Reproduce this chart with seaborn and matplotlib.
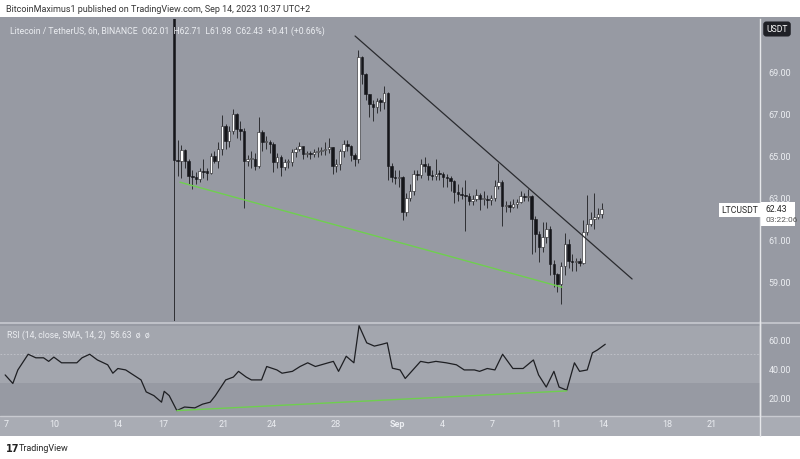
import numpy as np
import pandas as pd
import seaborn as sns
import matplotlib
matplotlib.use("Agg")
import matplotlib.pyplot as plt
from matplotlib.patches import Rectangle

# --- donnees (jours depuis le 10 aout, bougies 6h) ---
first_day = 7.25
step_day = 0.25
open0 = 71.6
closes = [64.76, 64.73, 65.25, 64.73, 64.02, 63.94, 63.86, 64.25, 64.20, 64.17,
          64.97, 64.73, 65.29, 66.40, 65.68, 66.16, 66.95, 66.24, 66.16, 64.73,
          64.80, 64.80, 64.50, 66.08, 65.60, 65.60, 65.52, 64.65, 64.89, 64.41,
          64.65, 64.68, 65.13, 65.29, 65.44, 65.05, 65.10, 65.05, 65.13, 65.20,
          65.25, 65.29, 65.37, 64.49, 64.57, 65.20, 65.52, 65.44, 65.00, 64.80,
          69.65, 68.86, 67.90, 67.43, 67.27, 67.59, 67.55, 67.98, 64.49, 63.94,
          63.90, 63.94, 62.30, 62.98, 63.30, 64.10, 64.05, 64.57, 64.49, 64.06,
          64.02, 64.10, 64.08, 63.94, 63.90, 63.78, 63.22, 63.15, 63.10, 63.05,
          62.83, 62.90, 63.10, 62.90, 62.92, 62.88, 62.98, 63.54, 63.70, 62.59,
          62.60, 62.55, 62.67, 62.75, 63.06, 63.00, 63.06, 61.95, 61.24, 60.60,
          61.08, 61.48, 59.81, 59.33, 58.86, 59.73, 60.76, 59.97, 59.89, 59.95,
          59.85, 61.32, 61.71, 61.95, 62.03, 62.20, 62.43]
highs = [72.5, 65.7, 65.5, 65.3, 64.8, 64.3, 64.2, 64.4, 64.8, 64.4,
         65.1, 65.2, 65.6, 66.9, 66.5, 66.4, 67.2, 67.0, 66.6, 66.3,
         65.0, 65.2, 65.1, 66.8, 66.2, 65.9, 65.7, 65.6, 65.1, 65.0,
         64.8, 64.8, 65.3, 65.4, 65.6, 65.4, 65.2, 65.2, 65.3, 65.4,
         65.4, 65.6, 65.8, 65.4, 64.8, 65.3, 65.7, 65.7, 65.5, 65.1,
         70.0, 69.7, 68.9, 67.9, 67.6, 67.7, 67.7, 68.3, 68.0, 64.6,
         64.3, 64.3, 64.0, 63.2, 63.6, 64.3, 64.3, 64.8, 64.9, 64.6,
         64.3, 64.8, 64.3, 64.2, 64.1, 64.0, 63.8, 63.6, 63.5, 63.8,
         63.2, 63.1, 63.4, 63.2, 63.3, 63.1, 63.1, 63.8, 64.6, 63.8,
         62.8, 62.8, 62.9, 62.9, 63.3, 63.2, 63.4, 63.1, 62.1, 61.4,
         61.8, 61.8, 61.6, 60.0, 59.4, 59.9, 61.3, 61.0, 60.3, 60.1,
         60.1, 61.9, 63.1, 62.3, 63.2, 62.5, 62.71]
lows = [57.1, 64.0, 63.9, 64.4, 63.6, 63.4, 63.6, 63.7, 63.9, 63.8,
        64.1, 64.6, 64.4, 65.0, 65.3, 65.4, 66.0, 65.8, 65.7, 62.5,
        64.5, 64.4, 64.3, 64.4, 65.2, 65.3, 65.1, 64.2, 64.4, 64.0,
        64.3, 64.4, 64.5, 64.9, 65.2, 64.8, 64.9, 64.8, 64.9, 64.9,
        65.0, 65.0, 65.1, 64.1, 64.2, 64.3, 64.9, 65.2, 64.7, 64.5,
        64.6, 68.4, 67.6, 66.8, 66.6, 67.0, 67.1, 67.2, 63.8, 63.7,
        63.6, 63.5, 61.9, 62.1, 62.8, 63.1, 63.8, 63.9, 64.2, 63.8,
        63.8, 63.8, 63.8, 63.5, 63.5, 63.3, 62.7, 62.8, 62.9, 61.4,
        62.6, 62.6, 62.8, 62.4, 62.6, 62.5, 62.6, 62.8, 63.4, 61.6,
        62.3, 62.3, 62.5, 62.5, 62.7, 62.8, 62.8, 60.3, 60.4, 59.9,
        60.4, 60.8, 59.3, 58.7, 58.5, 57.9, 59.3, 59.6, 59.5, 59.5,
        59.7, 59.8, 61.2, 61.6, 61.5, 61.98, 62.0]

rsi_days = [-4.19, -3.67, -3.33, -2.63, -2.11, -1.59, -1.24, -0.89, -0.37, 0.33,
            0.67, 1.02, 1.54, 2.06, 2.76, 3.11, 3.45, 3.98, 4.50, 5.02,
            5.37, 5.89, 6.41, 6.59, 6.93, 7.45, 7.97, 8.67, 9.19, 9.71,
            10.06, 10.76, 11.28, 11.63, 12.15, 12.50, 13.19, 13.54, 14.23, 14.58,
            15.28, 15.80, 16.32, 16.84, 17.71, 18.06, 18.41, 18.93, 19.45, 19.80,
            20.32, 20.84, 21.36, 21.71, 22.06, 22.58, 22.93, 23.45, 23.97, 24.49,
            25.01, 25.71, 26.40, 26.93, 27.62, 27.97, 28.49, 29.01, 29.53, 30.23,
            30.92, 31.62, 31.97, 32.49, 33.01, 33.36, 33.88, 34.40, 34.75, 35.27,
            35.62, 35.96, 36.49]
rsi_vals = [35.5, 29.5, 39, 50, 47.5, 47.5, 45, 48, 44, 44,
            44, 47.5, 50, 46, 42.6, 36.7, 40, 39, 35.5, 32,
            23.6, 21, 16.4, 24, 21, 10.5, 13, 12.4, 15, 16.4,
            21, 32, 34, 38, 34, 32, 32, 41.4, 39, 36.7,
            38, 41.4, 44, 41.4, 44, 45, 38, 48.6, 44, 70,
            58, 55.7, 57, 58, 40.2, 39, 33, 39, 45, 44,
            45, 44, 42.6, 39, 39, 38, 40, 39, 50, 40,
            40, 46, 35.5, 27, 38, 27, 24.8, 44, 38, 39,
            51, 53, 57]

# lignes de tendance (jour, valeur)
resist_days, resist_vals = [19.53, 38.31], [70.67, 59.1]
support_days, support_vals = [7.66, 33.56], [63.71, 58.71]
rsi_sup_days, rsi_sup_vals = [7.45, 33.88], [10.5, 24.3]

tick_days = [-4.14, -0.88, 3.39, 6.51, 10.64, 13.9, 18.24, 22.37, 25.42, 28.81, 33.15, 36.34, 40.68, 43.73]
tick_labels = ["7", "10", "14", "17", "21", "24", "28", "Sep", "4", "7", "11", "14", "18", "21"]
price_ticks = [59, 61, 63, 65, 67, 69]

# --- figure ---
sns.set_theme(style="white", rc={"font.family": "Roboto"})
W, H = 800, 460
fig = plt.figure(figsize=(8, 4.6), dpi=100, facecolor="white")
BG = "#979aa3"
LIGHT = "#a3a6ae"
TXT = "#eceef2"

def fx(px):
    return px / W

def fy(py):
    return 1 - py / H

fig.patches.append(Rectangle((0, fy(437)), 1, fy(18) - fy(437), transform=fig.transFigure,
                             facecolor=BG, edgecolor="none", zorder=-10))
fig.patches.append(Rectangle((0, fy(437)), 1, fy(417) - fy(437), transform=fig.transFigure,
                             facecolor="#a9acb4", edgecolor="none", zorder=-9))

xlim = (-4.54, 46.98)
ax = fig.add_axes([0, fy(322), fx(760), fy(20) - fy(322)])
ax2 = fig.add_axes([0, fy(417), fx(760), fy(325) - fy(417)])

for a in (ax, ax2):
    a.set_facecolor(BG)
    a.set_xlim(*xlim)
    for s in a.spines.values():
        s.set_visible(False)
    a.spines["right"].set_visible(True)
    a.spines["right"].set_color("#e6e7ea")
    a.spines["right"].set_linewidth(1)
    a.yaxis.tick_right()
    a.tick_params(axis="y", length=0, pad=6, labelsize=6.5, labelcolor=TXT)
    a.set_xticks([])

# bougies
n = len(closes)
days = first_day + step_day * np.arange(n)
opens = [open0] + closes[:-1]
df = pd.DataFrame({"day": days, "open": opens, "close": closes, "high": highs, "low": lows})
up = df["close"] >= df["open"]
ax.vlines(df["day"], df["low"], df["high"], color="#2e2f33", linewidth=0.7, zorder=2)
body_lo = np.minimum(df["open"], df["close"])
body_h = np.maximum(np.abs(df["close"] - df["open"]), 0.05)
ax.bar(df["day"][up], body_h[up], bottom=body_lo[up], width=0.17, color="white",
       edgecolor="#1c1c1f", linewidth=0.4, zorder=3)
ax.bar(df["day"][~up], body_h[~up], bottom=body_lo[~up], width=0.17, color="#15161a",
       edgecolor="#15161a", linewidth=0.4, zorder=3)

ax.plot(resist_days, resist_vals, color="#2a2b2f", linewidth=0.9, zorder=4)
ax.plot(support_days, support_vals, color="#6fcf4f", linewidth=1.0, zorder=4)
ax.set_ylim(57.10, 71.48)
ax.set_yticks(price_ticks)
ax.set_yticklabels([f"{v:.2f}" for v in price_ticks])

# RSI
ax2.axhspan(30, 70, color=LIGHT, zorder=0, linewidth=0)
ax2.axhline(50, color="#c3c5cb", linewidth=0.6, linestyle=(0, (2, 2)), zorder=1)
rsi_df = pd.DataFrame({"day": rsi_days, "rsi": rsi_vals})
sns.lineplot(data=rsi_df, x="day", y="rsi", ax=ax2, color="#1e1f23", linewidth=0.9, zorder=3)
ax2.plot(rsi_sup_days, rsi_sup_vals, color="#6fcf4f", linewidth=1.0, zorder=4)
ax2.set_ylim(6.7, 71.2)
ax2.set_yticks([20, 40, 60])
ax2.set_yticklabels(["20.00", "40.00", "60.00"])
ax2.set_xlabel("")
ax2.set_ylabel("")
ax2.set_xlim(*xlim)
ax2.set_xticks([])

# axe des dates
axd = fig.add_axes([0, fy(437), fx(760), fy(417) - fy(437)])
axd.set_xlim(*xlim)
axd.patch.set_alpha(0)
for s in axd.spines.values():
    s.set_visible(False)
axd.set_yticks([])
axd.set_xticks(tick_days)
axd.set_xticklabels(tick_labels)
axd.tick_params(axis="x", length=0, pad=-12, labelsize=6.5, labelcolor=TXT)
for lbl in axd.get_xticklabels():
    if lbl.get_text() == "Sep":
        lbl.set_fontweight("bold")

# separateurs
fig.add_artist(plt.Line2D([0, 1], [fy(323.5)] * 2, color="#c8cad0", linewidth=1.2))
fig.add_artist(plt.Line2D([0, 1], [fy(417)] * 2, color="#c8cad0", linewidth=1.0))
fig.add_artist(plt.Line2D([fx(760)] * 2, [fy(322), fy(437)], color="#e6e7ea", linewidth=1))

# textes
fig.text(fx(6), fy(10), "BitcoinMaximus1 published on TradingView.com, Sep 14, 2023 10:37 UTC+2",
         fontsize=6.5, color="#333333", va="center")
fig.text(fx(10), fy(31), "Litecoin / TetherUS, 6h, BINANCE  O62.01  H62.71  L61.98  C62.43  +0.41 (+0.66%)",
         fontsize=6.2, color=TXT, va="center")
fig.text(fx(7), fy(335), "RSI (14, close, SMA, 14, 2)  56.63  ø  ø", fontsize=6.2,
         color=TXT, va="center")
fig.text(fx(777), fy(30), "USDT", fontsize=6.2, color="white", ha="center", va="center",
         bbox=dict(boxstyle="round,pad=0.35", facecolor="#1f2026", edgecolor="none"))
fig.text(fx(758), fy(211), "LTCUSDT", fontsize=6.2, color="#222", ha="right", va="center",
         bbox=dict(boxstyle="square,pad=0.3", facecolor="white", edgecolor="none"))
fig.patches.append(Rectangle((fx(761), fy(227)), fx(34), fy(203) - fy(227), transform=fig.transFigure,
                             facecolor="white", edgecolor="none", zorder=5))
fig.text(fx(765), fy(210), "62.43", fontsize=6.2, color="#222", va="center", zorder=6)
fig.text(fx(765), fy(220), "03:22:06", fontsize=6.0, color="#555", va="center", zorder=6)
fig.text(fx(6), fy(449), "17", fontsize=7, color="#222", va="center", fontweight="bold",
         family="DejaVu Sans")
fig.text(fx(19), fy(449), "TradingView", fontsize=6.5, color="#222", va="center")

fig.savefig("out.png", dpi=100, facecolor="white")
